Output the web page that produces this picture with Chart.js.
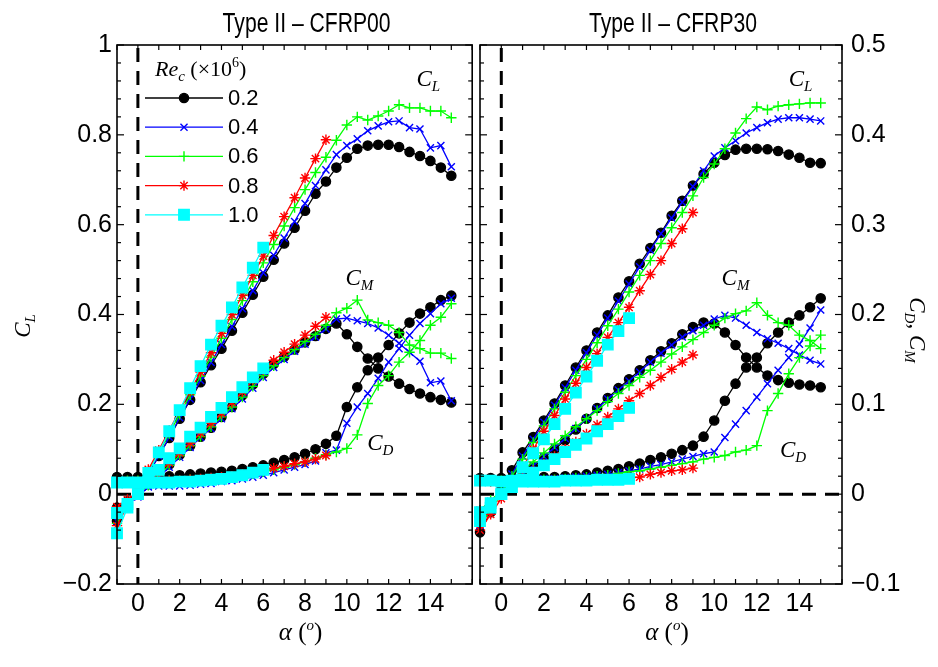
<!DOCTYPE html>
<html>
<head>
<meta charset="utf-8">
<title>Type II - CFRP00 / CFRP30</title>
<script src="https://cdn.jsdelivr.net/npm/chart.js"></script>
<style>
  html, body { margin: 0; padding: 0; background: #fff; }
  #wrap { position: relative; width: 938px; height: 667px; overflow: hidden; background: #fff; }
  canvas { position: absolute; top: 0; }
  #chart-left { left: 0; }
  #chart-right { left: 466px; }
</style>
</head>
<body>
<div id="wrap">
  <canvas id="chart-left" width="481" height="667"></canvas>
  <canvas id="chart-right" width="472" height="667"></canvas>
</div>
<script>
// angle of attack (deg), shared by every series
const alpha = [-1, -0.5, 0, 0.5, 1, 1.5, 2, 2.5, 3, 3.5, 4, 4.5, 5, 5.5, 6, 6.5, 7, 7.5, 8, 8.5,
               9, 9.5, 10, 10.5, 11, 11.5, 12, 12.5, 13, 13.5, 14, 14.5, 15];
const reLabels = ['0.2', '0.4', '0.6', '0.8', '1.0'];
const xTickLabels = [0, 2, 4, 6, 8, 10, 12, 14];
const clTicks = [-0.2, 0, 0.2, 0.4, 0.6, 0.8, 1];
const cdTicks = [-0.1, 0, 0.1, 0.2, 0.3, 0.4, 0.5];

// ---- Type II - CFRP00 ----
const cl00_02 = [-0.06, -0.02, 0.01, 0.045, 0.085, 0.125, 0.168, 0.21, 0.249, 0.287, 0.324, 0.364, 0.404, 0.444, 0.484, 0.522, 0.558, 0.593, 0.631, 0.669, 0.696, 0.727, 0.749, 0.769, 0.776, 0.778, 0.778, 0.773, 0.762, 0.753, 0.742, 0.727, 0.709];
const cl00_04 = [-0.06, -0.025, 0.008, 0.045, 0.085, 0.127, 0.17, 0.212, 0.253, 0.293, 0.333, 0.373, 0.413, 0.453, 0.493, 0.532, 0.57, 0.607, 0.647, 0.687, 0.722, 0.756, 0.776, 0.791, 0.809, 0.82, 0.829, 0.831, 0.816, 0.813, 0.771, 0.776, 0.729];
const cl00_06 = [-0.065, -0.025, 0.01, 0.05, 0.092, 0.135, 0.178, 0.221, 0.263, 0.305, 0.347, 0.389, 0.431, 0.473, 0.515, 0.556, 0.597, 0.638, 0.678, 0.716, 0.75, 0.788, 0.822, 0.84, 0.833, 0.842, 0.853, 0.867, 0.86, 0.86, 0.853, 0.853, 0.838];
const cl00_08 = [-0.07, -0.025, 0.012, 0.055, 0.098, 0.142, 0.186, 0.229, 0.272, 0.315, 0.358, 0.4, 0.443, 0.487, 0.53, 0.576, 0.618, 0.66, 0.704, 0.747, 0.789];
const cl00_10 = [-0.087, -0.03, 0.0, 0.047, 0.093, 0.14, 0.187, 0.236, 0.285, 0.333, 0.375, 0.416, 0.46, 0.504, 0.549];

const cm00_02 = [-0.015, -0.008, 0.0, 0.011, 0.022, 0.033, 0.044, 0.054, 0.064, 0.074, 0.086, 0.097, 0.11, 0.122, 0.134, 0.145, 0.153, 0.161, 0.169, 0.176, 0.184, 0.19, 0.178, 0.164, 0.151, 0.14, 0.131, 0.123, 0.117, 0.112, 0.108, 0.105, 0.102];
const cm00_04 = [-0.02, -0.012, -0.003, 0.008, 0.019, 0.03, 0.041, 0.052, 0.063, 0.073, 0.084, 0.095, 0.106, 0.118, 0.13, 0.141, 0.15, 0.159, 0.167, 0.175, 0.184, 0.195, 0.196, 0.193, 0.19, 0.185, 0.177, 0.168, 0.158, 0.148, 0.124, 0.126, 0.104];
const cm00_06 = [-0.018, -0.01, 0.0, 0.01, 0.021, 0.032, 0.043, 0.054, 0.064, 0.075, 0.086, 0.097, 0.108, 0.12, 0.132, 0.143, 0.152, 0.161, 0.17, 0.178, 0.188, 0.202, 0.207, 0.216, 0.194, 0.191, 0.188, 0.18, 0.166, 0.162, 0.157, 0.157, 0.151];
const cm00_08 = [-0.014, -0.006, 0.003, 0.013, 0.024, 0.035, 0.046, 0.057, 0.068, 0.079, 0.09, 0.102, 0.114, 0.127, 0.138, 0.149, 0.158, 0.167, 0.177, 0.187, 0.197];
const cm00_10 = [-0.021, -0.011, 0.0, 0.013, 0.027, 0.04, 0.051, 0.064, 0.074, 0.086, 0.096, 0.108, 0.119, 0.13, 0.14];

const cd00_02 = [0.019, 0.019, 0.019, 0.019, 0.02, 0.02, 0.021, 0.022, 0.023, 0.024, 0.025, 0.026, 0.028, 0.03, 0.032, 0.035, 0.038, 0.041, 0.045, 0.05, 0.056, 0.065, 0.097, 0.119, 0.138, 0.152, 0.166, 0.179, 0.191, 0.201, 0.208, 0.216, 0.221];
const cd00_04 = [0.014, 0.012, 0.01, 0.009, 0.009, 0.009, 0.009, 0.01, 0.011, 0.012, 0.014, 0.015, 0.017, 0.019, 0.021, 0.024, 0.027, 0.03, 0.033, 0.037, 0.046, 0.049, 0.079, 0.097, 0.112, 0.129, 0.147, 0.162, 0.177, 0.19, 0.201, 0.212, 0.218];
const cd00_06 = [0.016, 0.015, 0.015, 0.015, 0.015, 0.015, 0.015, 0.016, 0.016, 0.017, 0.018, 0.019, 0.021, 0.023, 0.025, 0.027, 0.03, 0.033, 0.036, 0.04, 0.044, 0.047, 0.051, 0.066, 0.101, 0.121, 0.132, 0.147, 0.158, 0.171, 0.188, 0.197, 0.212];
const cd00_08 = [0.015, 0.014, 0.014, 0.014, 0.014, 0.015, 0.015, 0.016, 0.017, 0.018, 0.019, 0.02, 0.022, 0.024, 0.027, 0.029, 0.031, 0.034, 0.036, 0.039, 0.043];
const cd00_10 = [0.013, 0.013, 0.013, 0.013, 0.013, 0.013, 0.014, 0.014, 0.015, 0.016, 0.017, 0.019, 0.021, 0.024, 0.027];

// ---- Type II - CFRP30 ----
const cl30_02 = [-0.085, -0.04, 0.01, 0.053, 0.093, 0.127, 0.164, 0.202, 0.242, 0.282, 0.32, 0.36, 0.398, 0.438, 0.474, 0.513, 0.548, 0.582, 0.62, 0.653, 0.687, 0.713, 0.738, 0.755, 0.767, 0.769, 0.769, 0.768, 0.764, 0.756, 0.749, 0.738, 0.737];
const cl30_04 = [-0.07, -0.035, 0.005, 0.045, 0.085, 0.122, 0.16, 0.198, 0.237, 0.276, 0.315, 0.354, 0.392, 0.43, 0.468, 0.506, 0.543, 0.58, 0.615, 0.65, 0.685, 0.72, 0.753, 0.771, 0.787, 0.804, 0.816, 0.827, 0.835, 0.838, 0.838, 0.835, 0.831];
const cl30_06 = [-0.07, -0.035, 0.0, 0.04, 0.078, 0.115, 0.152, 0.19, 0.227, 0.264, 0.3, 0.337, 0.375, 0.412, 0.45, 0.487, 0.52, 0.558, 0.593, 0.627, 0.664, 0.705, 0.735, 0.769, 0.804, 0.836, 0.862, 0.856, 0.864, 0.867, 0.869, 0.871, 0.871];
const cl30_08 = [-0.08, -0.045, -0.01, 0.025, 0.06, 0.1, 0.14, 0.175, 0.212, 0.247, 0.282, 0.313, 0.349, 0.382, 0.416, 0.453, 0.489, 0.52, 0.558, 0.591, 0.627];
const cl30_10 = [-0.06, -0.03, 0.0, 0.03, 0.06, 0.091, 0.122, 0.156, 0.19, 0.226, 0.262, 0.297, 0.333, 0.363, 0.392];

const cm30_02 = [-0.02, -0.01, 0.0, 0.01, 0.02, 0.03, 0.04, 0.05, 0.06, 0.072, 0.084, 0.096, 0.107, 0.118, 0.128, 0.138, 0.149, 0.159, 0.168, 0.178, 0.186, 0.191, 0.19, 0.18, 0.166, 0.152, 0.141, 0.132, 0.127, 0.124, 0.122, 0.121, 0.119];
const cm30_04 = [-0.018, -0.008, 0.002, 0.012, 0.022, 0.032, 0.042, 0.052, 0.062, 0.073, 0.084, 0.095, 0.106, 0.116, 0.126, 0.136, 0.147, 0.157, 0.166, 0.175, 0.182, 0.188, 0.195, 0.199, 0.196, 0.188, 0.18, 0.173, 0.168, 0.162, 0.155, 0.149, 0.145];
const cm30_06 = [-0.018, -0.007, 0.004, 0.015, 0.026, 0.036, 0.046, 0.056, 0.065, 0.075, 0.084, 0.093, 0.103, 0.112, 0.121, 0.13, 0.138, 0.147, 0.156, 0.164, 0.172, 0.18, 0.188, 0.196, 0.201, 0.204, 0.213, 0.199, 0.191, 0.188, 0.177, 0.171, 0.162];
const cm30_08 = [-0.018, -0.009, 0.0, 0.009, 0.018, 0.026, 0.034, 0.042, 0.05, 0.058, 0.067, 0.077, 0.086, 0.095, 0.104, 0.112, 0.121, 0.13, 0.139, 0.147, 0.155];
const cm30_10 = [-0.02, -0.01, 0.0, 0.008, 0.016, 0.024, 0.032, 0.039, 0.047, 0.055, 0.062, 0.07, 0.078, 0.087, 0.096];

const cd30_02 = [0.018, 0.018, 0.018, 0.018, 0.018, 0.018, 0.019, 0.019, 0.02, 0.021, 0.022, 0.024, 0.026, 0.028, 0.031, 0.034, 0.038, 0.041, 0.045, 0.049, 0.054, 0.064, 0.082, 0.104, 0.123, 0.141, 0.152, 0.168, 0.18, 0.191, 0.199, 0.208, 0.218];
const cd30_04 = [0.016, 0.016, 0.016, 0.016, 0.016, 0.016, 0.017, 0.017, 0.018, 0.019, 0.02, 0.021, 0.022, 0.024, 0.026, 0.028, 0.031, 0.033, 0.036, 0.039, 0.042, 0.045, 0.047, 0.063, 0.078, 0.093, 0.108, 0.123, 0.138, 0.152, 0.167, 0.185, 0.205];
const cd30_06 = [0.016, 0.015, 0.015, 0.015, 0.015, 0.015, 0.016, 0.016, 0.017, 0.018, 0.019, 0.02, 0.021, 0.023, 0.025, 0.026, 0.028, 0.03, 0.032, 0.034, 0.036, 0.039, 0.041, 0.043, 0.047, 0.049, 0.054, 0.093, 0.112, 0.134, 0.152, 0.165, 0.177];
const cd30_08 = [0.014, 0.014, 0.014, 0.014, 0.014, 0.014, 0.014, 0.015, 0.015, 0.015, 0.016, 0.016, 0.017, 0.017, 0.018, 0.019, 0.022, 0.024, 0.026, 0.027, 0.029];
const cd30_10 = [0.015, 0.015, 0.014, 0.014, 0.014, 0.014, 0.014, 0.014, 0.015, 0.015, 0.015, 0.016, 0.016, 0.016, 0.017];

// ---- styling ----
const reColors = ['#000000', '#0000ff', '#00ff00', '#ff0000', '#00ffff'];
const reMarkers = ['circle', 'crossRot', 'cross', 'star', 'rect'];
const reRadius = [4.6, 5, 5.2, 5.2, 7.4];

const SANS = "'Liberation Sans', Arial, Helvetica, sans-serif";
const SERIF = "'Liberation Serif', 'Times New Roman', serif";

function series(values, k, axis) {
    return {
        label: reLabels[k],
        data: values.map((v, i) => ({ x: alpha[i], y: v })),
        yAxisID: axis,
        borderColor: reColors[k],
        backgroundColor: reColors[k],
        pointBackgroundColor: reColors[k],
        pointBorderColor: reColors[k],
        pointStyle: reMarkers[k],
        pointRadius: reRadius[k],
        pointBorderWidth: 1.4,
        borderWidth: 1.3,
        tension: 0,
        clip: false,
        order: 10 - k
    };
}

function fmtTick(v) {
    if (Math.abs(v) < 1e-9) return '0';
    if (Math.abs(v - 1) < 1e-9) return '1';
    return (v < 0 ? '\u2212' : '') + Math.abs(v).toFixed(1);
}

// draw text made of pieces: [text, size, italic, dy]
function drawRich(ctx, parts, x, y, align) {
    let w = 0;
    parts.forEach(p => {
        ctx.font = (p[2] ? 'italic ' : '') + p[1] + 'px ' + SERIF;
        w += ctx.measureText(p[0]).width;
    });
    let cx = align === 'center' ? x - w / 2 : x;
    parts.forEach(p => {
        ctx.font = (p[2] ? 'italic ' : '') + p[1] + 'px ' + SERIF;
        ctx.fillText(p[0], cx, y + (p[3] || 0));
        cx += ctx.measureText(p[0]).width;
    });
}

function coefLabel(sub) {
    return [['C', 23, true, 0], [sub, 15, true, 5]];
}

function line(ctx, x1, y1, x2, y2) {
    ctx.beginPath();
    ctx.moveTo(x1, y1);
    ctx.lineTo(x2, y2);
    ctx.stroke();
}

function panelDeco(cfg) {
    return {
        id: 'panelDeco',
        beforeDatasetsDraw(chart) {
            const { ctx, chartArea: a, scales } = chart;
            const x0 = scales.x.getPixelForValue(0);
            const y0 = scales.y.getPixelForValue(0);
            ctx.save();
            ctx.strokeStyle = '#000';
            ctx.lineWidth = 3;
            ctx.setLineDash([14, 9]);
            line(ctx, x0, a.top + 3, x0, a.bottom);
            line(ctx, a.left, y0, a.right, y0);
            ctx.restore();
        },
        afterDatasetsDraw(chart) {
            const { ctx, chartArea: a, scales } = chart;
            ctx.save();
            ctx.strokeStyle = '#000';
            ctx.lineWidth = 1.2;
            for (let v = -1; v <= 16; v++) {
                const px = scales.x.getPixelForValue(v);
                line(ctx, px, a.top, px, a.top + 5);
                line(ctx, px, a.bottom, px, a.bottom - 5);
            }
            for (let k = 0; k <= 30; k++) {
                const py = scales.y.getPixelForValue(-0.2 + 0.04 * k);
                const len = k % 5 === 0 ? 7 : 4;
                line(ctx, a.left, py, a.left + len, py);
                line(ctx, a.right, py, a.right - len, py);
            }
            ctx.lineWidth = 1.6;
            ctx.strokeRect(a.left, a.top, a.right - a.left, a.bottom - a.top);
            ctx.restore();
        },
        afterDraw(chart) {
            const { ctx, chartArea: a, scales } = chart;
            ctx.save();
            ctx.fillStyle = '#000';
            ctx.textBaseline = 'alphabetic';

            // panel title, condensed sans
            ctx.font = '27px ' + SANS;
            const tw = ctx.measureText(cfg.title).width;
            const cxTitle = (a.left + a.right) / 2 + 12;
            ctx.save();
            ctx.translate(cxTitle, 32);
            ctx.scale(168 / tw, 1);
            ctx.textAlign = 'center';
            ctx.fillText(cfg.title, 0, 0);
            ctx.restore();
            ctx.textAlign = 'left';

            // x axis title: alpha (o)
            drawRich(ctx, [['\u03b1', 25, true, 0], [' (', 25, false, 0], ['o', 15, true, -10], [')', 25, false, 0]],
                (a.left + a.right) / 2 + 6, 640, 'center');

            // curve annotations
            cfg.notes.forEach(n => {
                drawRich(ctx, coefLabel(n.sub), scales.x.getPixelForValue(n.x), scales.y.getPixelForValue(n.y) + 7, 'center');
            });

            // y axis titles
            if (cfg.side === 'left') {
                ctx.save();
                ctx.translate(30, 326);
                ctx.rotate(-Math.PI / 2);
                drawRich(ctx, coefLabel('L'), 0, 0, 'center');
                ctx.restore();
            } else {
                ctx.save();
                ctx.translate(a.right + 68, 330);
                ctx.rotate(Math.PI / 2);
                drawRich(ctx, [['C', 23, true, 0], ['D', 15, true, 5], [', ', 23, false, 0], ['C', 23, true, 0], ['M', 15, true, 5]], 0, 0, 'center');
                ctx.restore();
            }

            // legend inside the left panel
            if (cfg.legend) {
                drawRich(ctx, [['Re', 22, true, 0], ['c', 15, true, 5], [' (\u00d710', 22, false, 0], ['6', 14, false, -9], [')', 22, false, 0]], 155, 76, 'left');
                reLabels.forEach((lab, k) => {
                    const y = 98 + k * 29.2;
                    ctx.strokeStyle = reColors[k];
                    ctx.fillStyle = reColors[k];
                    ctx.lineWidth = 1.3;
                    line(ctx, 145, y, 223, y);
                    ctx.lineWidth = 1.4;
                    Chart.helpers.drawPoint(ctx, { pointStyle: reMarkers[k], radius: reRadius[k], rotation: 0, borderWidth: 1.4 }, 184, y);
                    ctx.fillStyle = '#000';
                    ctx.font = '22px ' + SANS;
                    ctx.textBaseline = 'middle';
                    ctx.fillText(lab, 228, y + 1);
                    ctx.textBaseline = 'alphabetic';
                });
            }
            ctx.restore();
        }
    };
}

function makePanel(canvasId, sets, cfg) {
    const left = cfg.side === 'left';
    const tickFont = { family: SANS, size: 25 };
    return new Chart(document.getElementById(canvasId), {
        type: 'line',
        data: { datasets: sets },
        options: {
            responsive: false,
            animation: false,
            layout: { padding: left ? { top: 45, left: 0, right: 1, bottom: 0 } : { top: 45, left: 14, right: 0, bottom: 0 } },
            plugins: { legend: { display: false }, tooltip: { enabled: false } },
            scales: {
                x: {
                    type: 'linear', min: -1, max: 16,
                    grid: { display: false, drawTicks: false },
                    border: { display: false },
                    ticks: { font: tickFont, color: '#000', padding: 5, maxRotation: 0, autoSkip: false },
                    afterBuildTicks: s => { s.ticks = xTickLabels.map(v => ({ value: v })); },
                    afterFit: s => { s.height = 83; }
                },
                y: {
                    type: 'linear', position: 'left', min: -0.2, max: 1, display: left,
                    grid: { display: false, drawTicks: false },
                    border: { display: false },
                    ticks: { font: tickFont, color: '#000', padding: 5, callback: v => fmtTick(v) },
                    afterBuildTicks: s => { s.ticks = clTicks.map(v => ({ value: v })); },
                    afterFit: s => { s.width = left ? 117 : 0; }
                },
                y2: {
                    type: 'linear', position: 'right', min: -0.1, max: 0.5, display: !left,
                    grid: { display: false, drawTicks: false },
                    border: { display: false },
                    ticks: { font: tickFont, color: '#000', padding: 9, callback: v => fmtTick(v) },
                    afterBuildTicks: s => { s.ticks = cdTicks.map(v => ({ value: v })); },
                    afterFit: s => { s.width = left ? 0 : 96; }
                }
            }
        },
        plugins: [panelDeco(cfg)]
    });
}

const sets00 = [
    series(cl00_02, 0, 'y'), series(cm00_02, 0, 'y2'), series(cd00_02, 0, 'y2'),
    series(cl00_04, 1, 'y'), series(cm00_04, 1, 'y2'), series(cd00_04, 1, 'y2'),
    series(cl00_06, 2, 'y'), series(cm00_06, 2, 'y2'), series(cd00_06, 2, 'y2'),
    series(cl00_08, 3, 'y'), series(cm00_08, 3, 'y2'), series(cd00_08, 3, 'y2'),
    series(cl00_10, 4, 'y'), series(cm00_10, 4, 'y2'), series(cd00_10, 4, 'y2')
];
const sets30 = [
    series(cl30_02, 0, 'y'), series(cm30_02, 0, 'y2'), series(cd30_02, 0, 'y2'),
    series(cl30_04, 1, 'y'), series(cm30_04, 1, 'y2'), series(cd30_04, 1, 'y2'),
    series(cl30_06, 2, 'y'), series(cm30_06, 2, 'y2'), series(cd30_06, 2, 'y2'),
    series(cl30_08, 3, 'y'), series(cm30_08, 3, 'y2'), series(cd30_08, 3, 'y2'),
    series(cl30_10, 4, 'y'), series(cm30_10, 4, 'y2'), series(cd30_10, 4, 'y2')
];

makePanel('chart-left', sets00, {
    side: 'left', legend: true, title: 'Type II \u2013 CFRP00',
    notes: [{ x: 13.9, y: 0.925, sub: 'L' }, { x: 10.6, y: 0.482, sub: 'M' }, { x: 11.6, y: 0.113, sub: 'D' }]
});
makePanel('chart-right', sets30, {
    side: 'right', legend: false, title: 'Type II \u2013 CFRP30',
    notes: [{ x: 14.05, y: 0.925, sub: 'L' }, { x: 11.0, y: 0.482, sub: 'M' }, { x: 13.7, y: 0.098, sub: 'D' }]
});
</script>
</body>
</html>
